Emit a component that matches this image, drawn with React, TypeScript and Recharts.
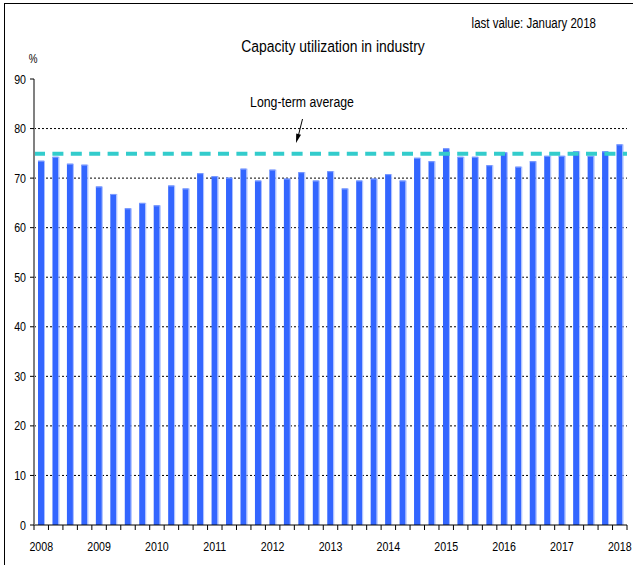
import React from "react";
import { BarChart, Bar, XAxis, YAxis, CartesianGrid, ReferenceLine } from "recharts";

const quarters = [
  "2008Q1", "2008Q2", "2008Q3", "2008Q4",
  "2009Q1", "2009Q2", "2009Q3", "2009Q4",
  "2010Q1", "2010Q2", "2010Q3", "2010Q4",
  "2011Q1", "2011Q2", "2011Q3", "2011Q4",
  "2012Q1", "2012Q2", "2012Q3", "2012Q4",
  "2013Q1", "2013Q2", "2013Q3", "2013Q4",
  "2014Q1", "2014Q2", "2014Q3", "2014Q4",
  "2015Q1", "2015Q2", "2015Q3", "2015Q4",
  "2016Q1", "2016Q2", "2016Q3", "2016Q4",
  "2017Q1", "2017Q2", "2017Q3", "2017Q4",
  "2018Q1",
];

const utilization = [
  73.5, 74.3, 72.9, 72.7,
  68.3, 66.8, 63.9, 65.0,
  64.5, 68.5, 67.9, 71.0,
  70.4, 70.1, 71.9, 69.5,
  71.7, 69.9, 71.2, 69.5,
  71.4, 67.9, 69.5, 69.9,
  70.8, 69.5, 74.1, 73.4,
  76.0, 74.3, 74.3, 72.6,
  75.2, 72.3, 73.4, 74.5,
  74.5, 75.4, 74.5, 75.4,
  76.8,
];

const longTermAverage = 74.9;
const yTicks = [0, 10, 20, 30, 40, 50, 60, 70, 80, 90];
const gridValues = [10, 20, 30, 40, 50, 60, 70, 80];

const titleText = "Capacity utilization in industry";
const lastValueText = "last value: January 2018";
const averageText = "Long-term average";
const unitText = "%";

const data = quarters.map((q, i) => ({ q, value: utilization[i] }));

const FONT = "'Liberation Sans', Arial, sans-serif";
const NARROW = 0.82;

const NText = (props: any) => {
  const { x, y, anchor = "middle", size = 13, children } = props;
  return (
    <text
      transform={`translate(${x},${y}) scale(${NARROW},1)`}
      x={0}
      y={0}
      textAnchor={anchor}
      fontSize={size}
      fontFamily={FONT}
      fill="#000"
    >
      {children}
    </text>
  );
};

const BarShape = (props: any) => {
  const { x, y, width, height } = props;
  if (!height || height <= 0) return null;
  return (
    <g>
      <rect x={x} y={y} width={width - 1} height={height} fill="#3366FF" />
      <rect x={x + width - 1} y={y} width={1} height={height} fill="#A9BEFF" />
      <rect x={x} y={y} width={width - 1} height={1} fill="#7F9DFF" />
    </g>
  );
};

const XTick = (props: any) => {
  const { x, y, payload, index } = props;
  const half = payload && payload.offset ? payload.offset : 7.22;
  const label: string = payload.value;
  const isQ1 = label.endsWith("Q1");
  const isLast = index === quarters.length - 1;
  return (
    <g>
      <line x1={x - half} y1={y} x2={x - half} y2={y + 5} stroke="#000" strokeWidth={1} />
      {isLast && (
        <line x1={x + half} y1={y} x2={x + half} y2={y + 5} stroke="#000" strokeWidth={1} />
      )}
      {isQ1 && (
        <NText x={x} y={y + 26} size={13}>
          {label.slice(0, 4)}
        </NText>
      )}
    </g>
  );
};

const YTick = (props: any) => {
  const { x, y, payload } = props;
  return (
    <NText x={x} y={y + 4.5} anchor="end" size={13}>
      {payload.value}
    </NText>
  );
};

export default function App() {
  return (
    <div style={{ position: "absolute", left: 0, top: 0, width: 633, height: 565, background: "#fff" }}>
      <BarChart
        width={633}
        height={565}
        data={data}
        margin={{ top: 79, right: 6, bottom: 10, left: 4 }}
        barCategoryGap={0}
      >
        <CartesianGrid
          horizontal={true}
          vertical={false}
          horizontalValues={gridValues}
          stroke="#000"
          strokeDasharray="2 2"
          strokeWidth={1}
        />
        <XAxis
          dataKey="q"
          type="category"
          interval={0}
          height={30}
          tickLine={false}
          tickSize={0}
          tickMargin={0}
          axisLine={{ stroke: "#000", strokeWidth: 1 }}
          tick={<XTick />}
        />
        <XAxis
          xAxisId="top"
          dataKey="q"
          orientation="top"
          height={0}
          tick={false}
          tickLine={false}
          axisLine={{ stroke: "#A0A0A0", strokeWidth: 1 }}
        />
        <YAxis
          domain={[0, 90]}
          ticks={yTicks}
          interval={0}
          width={30}
          tickSize={4}
          tickMargin={4}
          tickLine={{ stroke: "#000" }}
          axisLine={{ stroke: "#808080", strokeWidth: 2 }}
          tick={<YTick />}
        />
        <YAxis
          yAxisId="right"
          orientation="right"
          domain={[0, 90]}
          width={0}
          tick={false}
          tickLine={false}
          axisLine={{ stroke: "#A0A0A0", strokeWidth: 1.5 }}
        />
        <Bar dataKey="value" barSize={7} shape={<BarShape />} isAnimationActive={false} />
        <ReferenceLine
          y={longTermAverage}
          stroke="#33CCCC"
          strokeWidth={4}
          strokeDasharray="11 7.4"
          ifOverflow="extendDomain"
        />
      </BarChart>
      <svg
        width={633}
        height={565}
        style={{ position: "absolute", left: 0, top: 0, pointerEvents: "none" }}
      >
        <NText x={596} y={28} anchor="end" size={14}>
          {lastValueText}
        </NText>
        <NText x={333} y={52} size={17}>
          {titleText}
        </NText>
        <NText x={33} y={63} size={12}>
          {unitText}
        </NText>
        <NText x={302} y={107} size={15}>
          {averageText}
        </NText>
        <line x1={302.5} y1={119} x2={298.5} y2={135} stroke="#000" strokeWidth={1} />
        <polygon points="296,143 296.2,133.5 301,134.8" fill="#000" />
      </svg>
      <div
        style={{
          position: "absolute",
          left: 4,
          top: 3,
          width: 700,
          height: 700,
          borderTop: "1.5px solid #000",
          borderLeft: "1.5px solid #000",
          pointerEvents: "none",
        }}
      />
    </div>
  );
}
